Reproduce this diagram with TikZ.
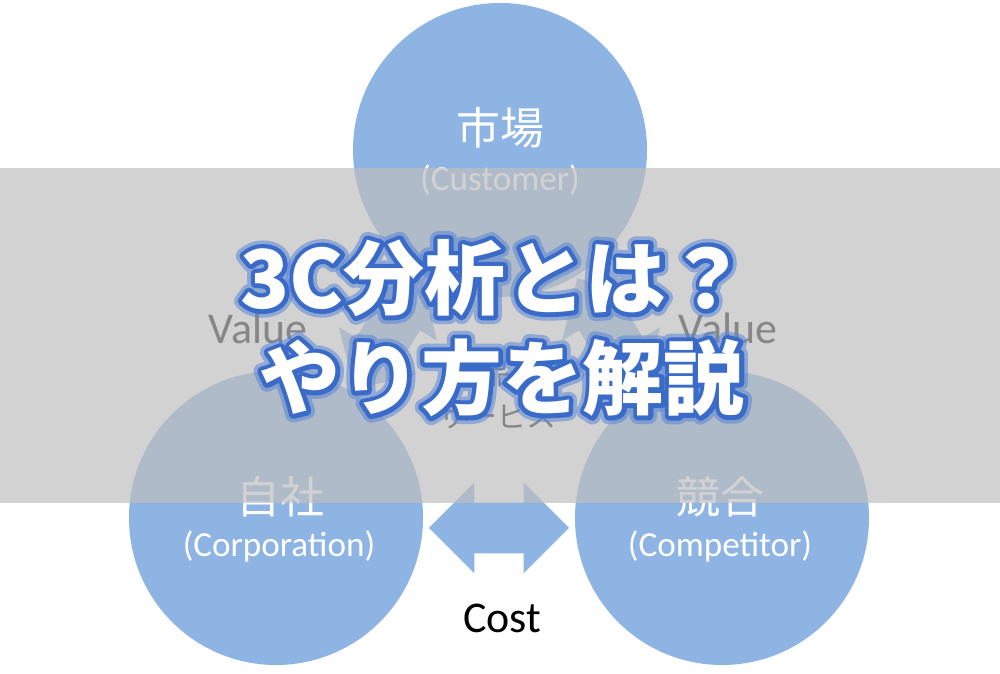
\documentclass[tikz,border=0pt]{standalone}
\usepackage{fontspec}
\setmainfont{Carlito}
\newfontfamily\jpfont{Noto Sans CJK JP}
\newfontfamily\jpedge{Noto Sans CJK JP}[BoldFeatures={FakeBold=11}]
\newfontfamily\jpglow{Noto Sans CJK JP}[BoldFeatures={FakeBold=20}]
\usetikzlibrary{shapes.arrows,calc}
\definecolor{CCBlue}{HTML}{8EB4E3}
\definecolor{CCBand}{HTML}{BFBFBF}
\definecolor{CCTitle}{HTML}{3A6BC9}
\definecolor{CCGlow}{HTML}{5A86D6}
\tikzset{
  cblob/.style={circle,fill=CCBlue,minimum size=58.8mm,inner sep=0pt},
  carrow/.style={double arrow,fill=CCBlue,double arrow head extend=4mm,
                 inner xsep=0pt,inner ysep=5mm},
  cname/.style={text=white,font=\jpfont\fontsize{25}{28}\selectfont,inner sep=0pt},
  cword/.style={text=white,font=\fontsize{20}{24}\selectfont,inner sep=0pt},
  flowlabel/.style={text=black,font=\fontsize{25}{30}\selectfont,inner sep=0pt},
  midlabel/.style={text=black,font=\jpfont\fontsize{17}{24.5}\selectfont,
                   inner sep=0pt,align=center},
  band/.style={fill=CCBand,fill opacity=0.7},
  titleline/.style={text=white,font=\jpfont\bfseries\fontsize{46}{50}\selectfont,inner sep=0pt},
  titleedge/.style={titleline,text=CCTitle,line join=round,
                    font=\jpedge\bfseries\fontsize{46}{50}\selectfont},
  titleglow/.style={titleline,text=CCGlow,text opacity=0.55,line join=round,
                    font=\jpglow\bfseries\fontsize{46}{50}\selectfont},
}

\begin{document}
\begin{tikzpicture}[x=0.2mm,y=0.2mm]
  \useasboundingbox (0,0) rectangle (1000,674);
  \fill[white] (0,0) rectangle (1000,674);

  % the three C
  \node[cblob] (cust) at (500,524) {};
  \node[cblob] (corp) at (276,156) {};
  \node[cblob] (comp) at (722,156) {};

  \node[carrow,minimum height=26mm,rotate=58.7] (valL) at ($(cust)!0.5!(corp)$) {};
  \node[carrow,minimum height=26mm,rotate=-58.7] (valR) at ($(cust)!0.5!(comp)$) {};
  \node[carrow,minimum height=28mm] (cost) at ($(corp)!0.5!(comp)+(0,-10)$) {};

  \node[flowlabel] (valLtext) at (258,346) {Value};
  \node[flowlabel] (valRtext) at (728,346) {Value};
  \node[flowlabel] (costtext) at (502,56) {Cost};
  \node[midlabel] (goods) at (497,280) {商品・\\サービス};

  \node[cname] (custname) at (500,546) {市場};
  \node[cword] (custword) at (500,494) {(Customer)};
  \node[cname] (corpname) at (280,177) {自社};
  \node[cword] (corpword) at (279,128) {(Corporation)};
  \node[cname] (compname) at (720,177) {競合};
  \node[cword] (compword) at (720,128) {(Competitor)};

  % grey band and title
  \fill[band] (0,171) rectangle (1000,506);

  \node[titleglow] (glow1) at (494,396) {3C分析とは？};
  \node[titleglow] (glow2) at (502,296) {やり方を解説};
  \node[titleedge] (edge1) at (glow1) {3C分析とは？};
  \node[titleedge] (edge2) at (glow2) {やり方を解説};
  \node[titleline] (title1) at (glow1) {3C分析とは？};
  \node[titleline] (title2) at (glow2) {やり方を解説};
\end{tikzpicture}
\end{document}
